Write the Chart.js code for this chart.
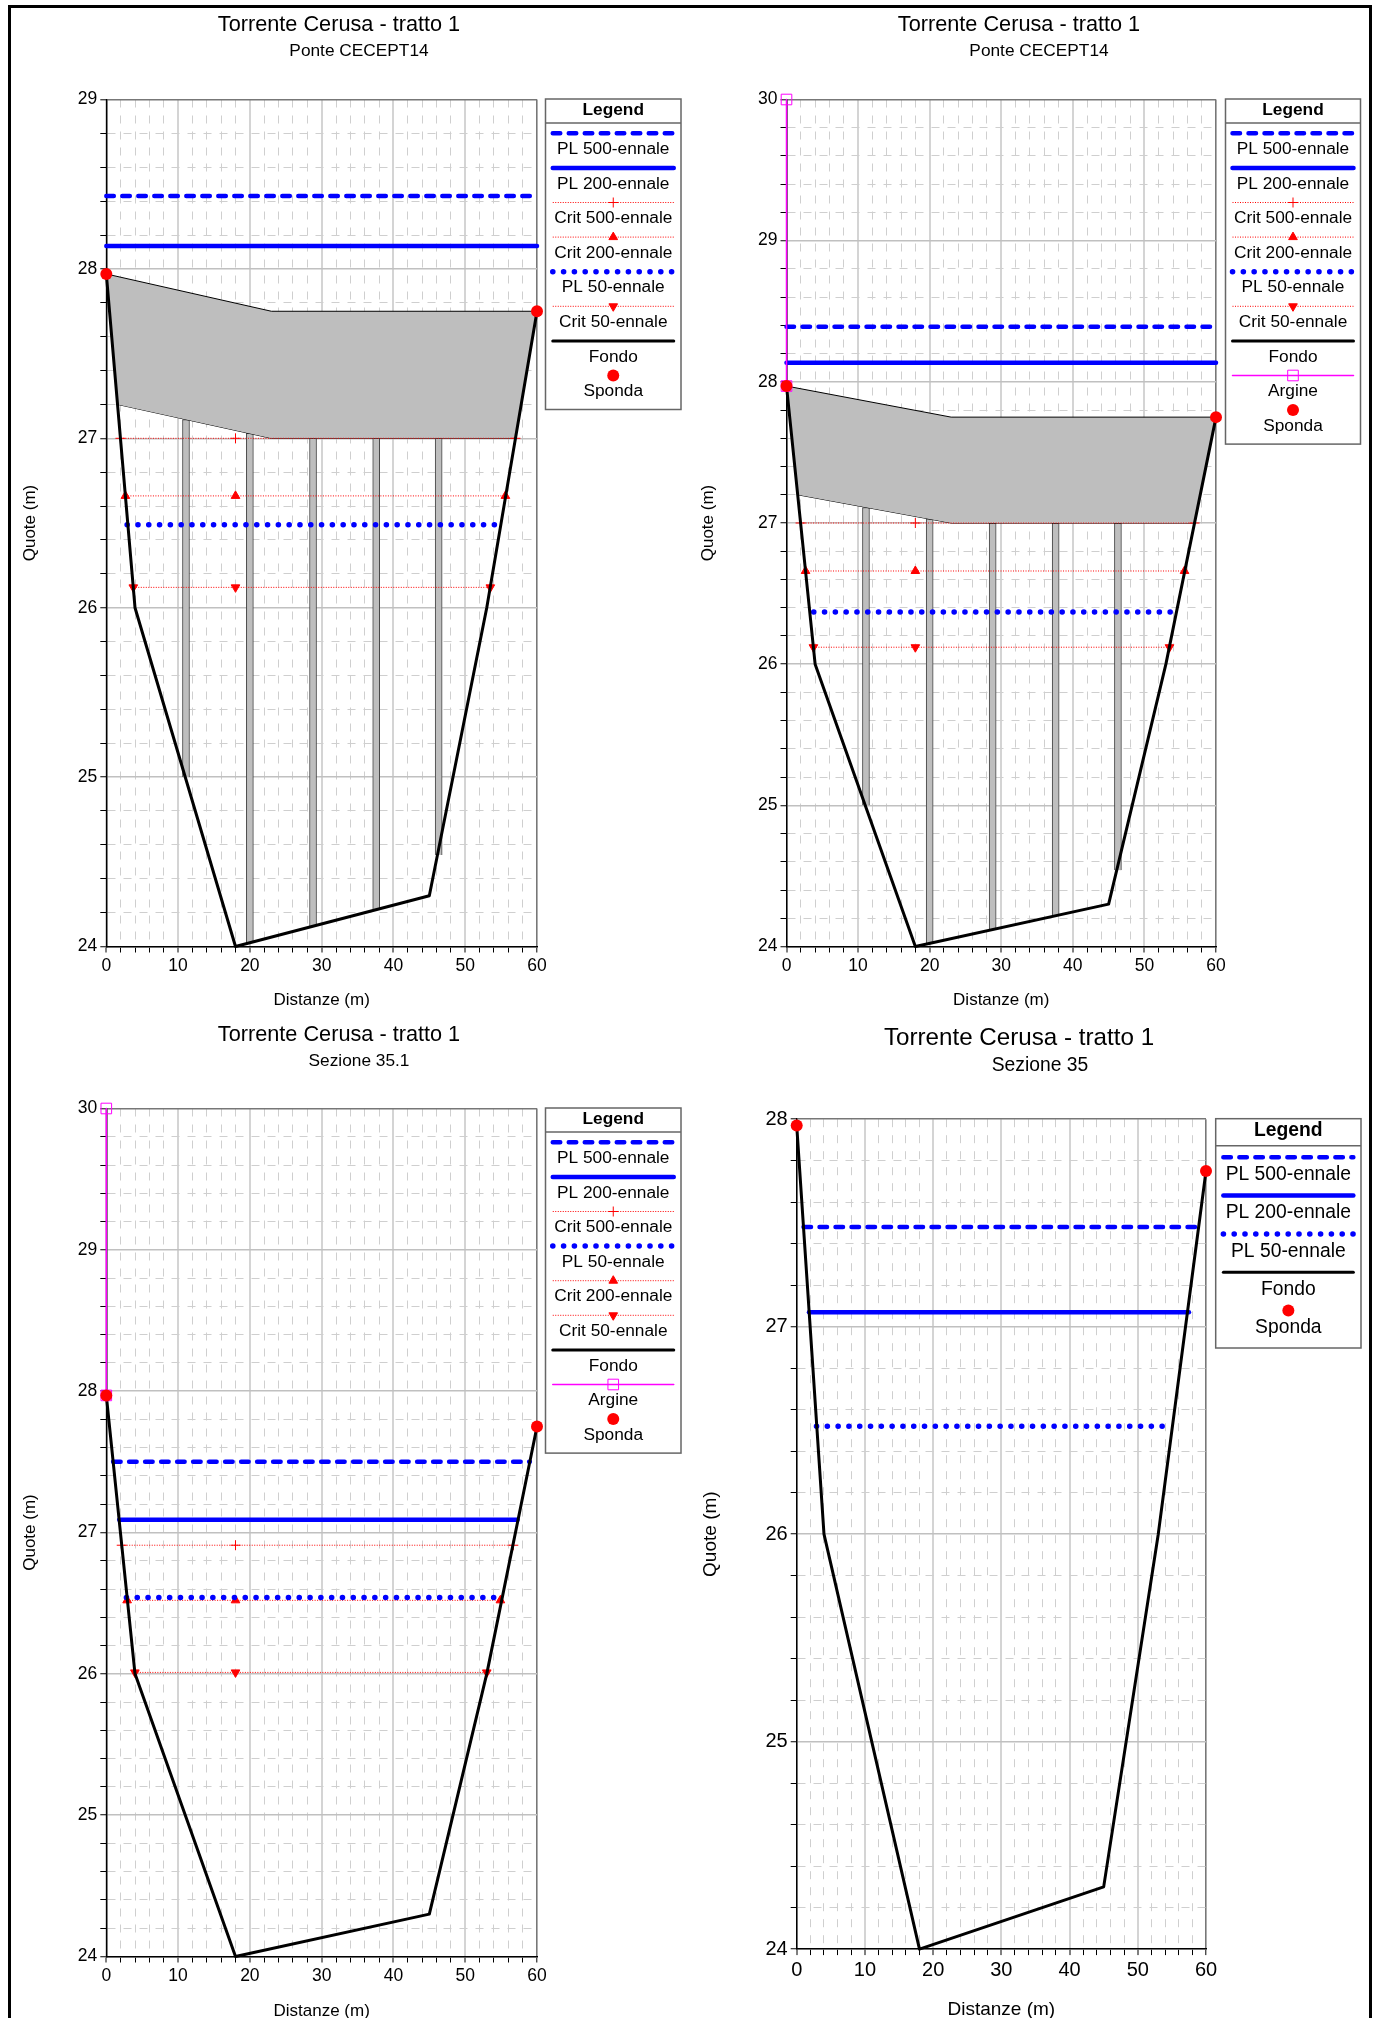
<!DOCTYPE html>
<html>
<head>
<meta charset="utf-8">
<title>Torrente Cerusa - tratto 1</title>
<style>
html, body { margin: 0; padding: 0; background: #fff; overflow: hidden; height: 2018px; }
#frame { position: absolute; left: 8px; top: 5px; width: 1358px; height: 2100px; border: 3px solid #000; }
canvas { position: absolute; }
</style>
<script src="https://cdn.jsdelivr.net/npm/chart.js@4/dist/chart.umd.js"></script>
</head>
<body>
<div id="frame"></div>
<canvas id="c1"></canvas>
<canvas id="c2"></canvas>
<canvas id="c3"></canvas>
<canvas id="c4"></canvas>
<script>
// riverbed and banks, shared by all the sections
const fondoX = [0, 4, 18, 45, 53, 60];
const fondoY = [27.97, 26, 24, 24.3, 26, 27.75];
const spondaX = [0, 60];
const spondaY = [27.97, 27.75];
const argineX = [0, 0];
const argineY = [27.97, 30];

// bridge deck and piers (first two panels)
const deckTopX = [0, 23, 60];
const deckTopY = [27.97, 27.75, 27.75];
const deckLowX = [0, 1.56, 23, 57, 60];
const deckLowY = [27.97, 27.2, 27, 27, 27.75];
const pierX = [11.1, 20, 28.8, 37.6, 46.3];
const pierBase = [25, 24.02, 24.12, 24.22, 24.54];
const pierTop = [27.11, 27.03, 27, 27, 27];

// levels: [quota, x start, x end], crit levels also have a marker at x = 18
const p1Pl500 = [28.43, 0, 59.3];
const p1Pl200 = [28.135, 0, 60];
const p1Crit500 = [27, 1.97, 57];
const p1Crit200 = [26.66, 2.66, 55.6];
const p1Pl50 = [26.49, 2.9, 54.8];
const p1Crit50 = [26.12, 3.76, 53.5];

const p2Pl500 = [28.39, 0, 59.4];
const p2Pl200 = [28.135, 0, 60];
const p2Crit500 = [27, 1.97, 57];
const p2Crit200 = [26.66, 2.66, 55.6];
const p2Pl50 = [26.37, 3.8, 53.9];
const p2Crit50 = [26.12, 3.76, 53.5];

const p3Pl500 = [27.5, 0.95, 59];
const p3Pl200 = [27.09, 1.8, 57.3];
const p3Crit500 = [26.91, 2.15, 56.7];
const p3Pl50 = [26.54, 2.8, 55.2];
const p3Crit200 = [26.52, 2.9, 54.9];
const p3Crit50 = [26.01, 3.98, 53];

const p4Pl500 = [27.48, 1, 59];
const p4Pl200 = [27.07, 1.8, 57.5];
const p4Pl50 = [26.52, 2.9, 54.4];

const legendP1 = ['PL 500-ennale', 'PL 200-ennale', 'Crit 500-ennale', 'Crit 200-ennale', 'PL 50-ennale', 'Crit 50-ennale', 'Fondo', 'Sponda'];
const legendP2 = ['PL 500-ennale', 'PL 200-ennale', 'Crit 500-ennale', 'Crit 200-ennale', 'PL 50-ennale', 'Crit 50-ennale', 'Fondo', 'Argine', 'Sponda'];
const legendP3 = ['PL 500-ennale', 'PL 200-ennale', 'Crit 500-ennale', 'PL 50-ennale', 'Crit 200-ennale', 'Crit 50-ennale', 'Fondo', 'Argine', 'Sponda'];
const legendP4 = ['PL 500-ennale', 'PL 200-ennale', 'PL 50-ennale', 'Fondo', 'Sponda'];

const FONT = '"Liberation Sans", Arial, sans-serif';

function zip(xs, ys) {
    return xs.map((x, i) => ({ x: x, y: ys[i] }));
}
function flat(level) {
    return [{ x: level[1], y: level[0] }, { x: level[2], y: level[0] }];
}
function crit(level) {
    return [{ x: level[1], y: level[0] }, { x: 18, y: level[0] }, { x: level[2], y: level[0] }];
}

function lineSet(label, data, extra) {
    return Object.assign({
        type: 'line', label: label, data: data, clip: false, fill: false, tension: 0,
        pointRadius: 0, pointHoverRadius: 0, borderCapStyle: 'round', borderJoinStyle: 'round'
    }, extra);
}
function pl500(level) { return lineSet('PL 500-ennale', flat(level), { borderColor: '#0000ff', borderWidth: 4.5, borderDash: [7.5, 8.5] }); }
function pl200(level) { return lineSet('PL 200-ennale', flat(level), { borderColor: '#0000ff', borderWidth: 4.5 }); }
function pl50(level) { return lineSet('PL 50-ennale', flat(level), { borderColor: '#0000ff', borderWidth: 5.5, borderDash: [0.1, 10.7] }); }
function critSet(label, level, style, rotation, radius) {
    return lineSet(label, crit(level), {
        borderColor: '#ff0000', borderWidth: 1, borderDash: [1, 1.5], borderCapStyle: 'butt',
        pointStyle: style, pointRotation: rotation, pointRadius: radius,
        pointBackgroundColor: '#ff0000', pointBorderColor: '#ff0000', pointBorderWidth: 1
    });
}
function crit500(level) { return critSet('Crit 500-ennale', level, 'cross', 0, 5); }
function crit200(level) { return critSet('Crit 200-ennale', level, 'triangle', 0, 5); }
function crit50(level) { return critSet('Crit 50-ennale', level, 'triangle', 180, 5); }
function fondo() { return lineSet('Fondo', zip(fondoX, fondoY), { borderColor: '#000', borderWidth: 3 }); }
function sponda() {
    return lineSet('Sponda', zip(spondaX, spondaY), {
        showLine: false, borderColor: '#ff0000', pointStyle: 'circle', pointRadius: 6,
        pointBackgroundColor: '#ff0000', pointBorderColor: '#ff0000', pointBorderWidth: 0
    });
}
function argine() {
    return lineSet('Argine', zip(argineX, argineY), {
        borderColor: '#ff00ff', borderWidth: 1.5, pointStyle: 'rect', pointRadius: 7.5,
        pointBackgroundColor: 'rgba(0,0,0,0)', pointBorderColor: '#ff00ff', pointBorderWidth: 1
    });
}
// deck = top edge filled down to the low edge, piers are floating bars behind it
function bridge() {
    return [
        lineSet('Impalcato', zip(deckTopX, deckTopY), {
            borderColor: '#000', borderWidth: 1, backgroundColor: '#bebebe', fill: { target: '+1' }
        }),
        lineSet('Impalcato basso', zip(deckLowX, deckLowY), { borderColor: '#000', borderWidth: 1 }),
        {
            type: 'bar', label: 'Pile', clip: false, barThickness: 7, grouped: false,
            data: pierX.map((x, i) => ({ x: x, y: [pierBase[i], pierTop[i]] })),
            backgroundColor: '#bebebe', borderColor: '#444', borderWidth: 1
        }
    ];
}

// titles and the boxed legend, all laid out in page pixels of the panel
const panelText = {
    id: 'panelText',
    afterDraw(chart, args, o) {
        const ctx = chart.ctx;
        ctx.save();
        ctx.translate(-o.canvasX, -o.canvasY);
        ctx.fillStyle = '#000';
        ctx.textAlign = 'center';
        ctx.textBaseline = 'middle';
        ctx.font = o.titleSize + 'px ' + FONT;
        ctx.fillText(o.title, o.titleX, o.titleY);
        ctx.font = o.subSize + 'px ' + FONT;
        ctx.fillText(o.subtitle, o.subX, o.subY);

        const b = o.box;
        const rows = o.entries.length;
        const bottom = b.top + b.first + (rows - 1) * b.step + b.offset + b.tail;
        const cx = (b.left + b.right) / 2;
        ctx.strokeStyle = '#666';
        ctx.lineWidth = 1.5;
        ctx.setLineDash([]);
        ctx.strokeRect(b.left, b.top, b.right - b.left, bottom - b.top);
        ctx.beginPath();
        ctx.moveTo(b.left, b.top + b.head);
        ctx.lineTo(b.right, b.top + b.head);
        ctx.stroke();
        ctx.font = 'bold ' + o.legendSize + 'px ' + FONT;
        ctx.fillText('Legend', cx, b.top + b.head * 0.46);

        o.entries.forEach((label, i) => {
            const ds = chart.data.datasets.find(d => d.label === label);
            const y = b.top + b.first + i * b.step;
            if (ds.showLine !== false) {
                ctx.save();
                ctx.strokeStyle = ds.borderColor;
                ctx.lineWidth = ds.borderWidth;
                ctx.lineCap = ds.borderCapStyle;
                ctx.setLineDash(ds.borderDash || []);
                ctx.beginPath();
                ctx.moveTo(cx - b.swatch / 2, y);
                ctx.lineTo(cx + b.swatch / 2, y);
                ctx.stroke();
                ctx.restore();
            }
            if (ds.pointRadius > 0) {
                ctx.save();
                ctx.setLineDash([]);
                ctx.fillStyle = ds.pointBackgroundColor;
                ctx.strokeStyle = ds.pointBorderColor;
                ctx.lineWidth = ds.pointBorderWidth;
                Chart.helpers.drawPoint(ctx, {
                    pointStyle: ds.pointStyle, rotation: ds.pointRotation || 0,
                    radius: ds.pointRadius, borderWidth: ds.pointBorderWidth
                }, cx, y);
                ctx.restore();
            }
            ctx.font = o.legendSize + 'px ' + FONT;
            ctx.fillStyle = '#000';
            ctx.fillText(label, cx, y + b.offset + 1);
        });
        ctx.restore();
    }
};

function isWhole(v, unit) {
    const q = v / unit;
    return Math.abs(q - Math.round(q)) < 1e-6;
}

function makePanel(id, c, plot, yMax, datasets, text) {
    const canvas = document.getElementById(id);
    canvas.width = c.w;
    canvas.height = c.h;
    canvas.style.left = c.x + 'px';
    canvas.style.top = c.y + 'px';
    canvas.style.width = c.w + 'px';
    canvas.style.height = c.h + 'px';

    const axisLine = (unit, end, majorColor, majorWidth) => ({
        offset: false,
        color: ctx => {
            if (ctx.tick && Math.abs(ctx.tick.value - end) < 1e-6) return '#777';
            return isWhole(ctx.tick ? ctx.tick.value : 0, unit) ? majorColor : '#cfcfcf';
        },
        lineWidth: ctx => {
            if (ctx.tick && Math.abs(ctx.tick.value - end) < 1e-6) return 1.6;
            return (ctx.tick && isWhole(ctx.tick.value, unit)) ? majorWidth : 1;
        },
        tickColor: '#000',
        tickLength: 6,
        tickWidth: 1
    });
    const dash = unit => ({
        display: true, color: '#000', width: 1.5,
        dash: ctx => (ctx.tick && isWhole(ctx.tick.value, unit)) ? [] : [8, 8]
    });
    const tickFont = { family: FONT, size: text.tickSize };
    const axisFont = { family: FONT, size: text.axisSize };

    return new Chart(canvas, {
        type: 'line',
        data: { datasets: datasets },
        options: {
            responsive: false,
            animation: false,
            devicePixelRatio: 1,
            events: [],
            layout: { padding: { top: plot.top - c.y, right: c.x + c.w - plot.right, left: 0, bottom: 0 } },
            plugins: {
                legend: { display: false },
                title: { display: false },
                tooltip: { enabled: false },
                panelText: Object.assign({ canvasX: c.x, canvasY: c.y }, text)
            },
            scales: {
                x: {
                    type: 'linear', min: 0, max: 60, offset: false,
                    afterFit: s => { s.height = c.y + c.h - plot.bottom; },
                    grid: axisLine(10, 60, '#d4d4d4', 2),
                    border: dash(10),
                    ticks: {
                        stepSize: 2, autoSkip: false, maxRotation: 0, color: '#000', font: tickFont, padding: 3,
                        callback: v => isWhole(v, 10) ? String(v) : ''
                    },
                    title: { display: true, text: 'Distanze (m)', color: '#000', font: axisFont, padding: { top: 0, bottom: text.xTitlePad } }
                },
                y: {
                    type: 'linear', min: 24, max: yMax,
                    afterFit: s => { s.width = plot.left - c.x; },
                    grid: axisLine(1, yMax, '#c0c0c0', 1.5),
                    border: dash(1),
                    ticks: {
                        stepSize: 0.2, autoSkip: false, color: '#000', font: tickFont, padding: 3,
                        callback: v => isWhole(v, 1) ? String(Math.round(v)) : ''
                    },
                    title: { display: true, text: 'Quote (m)', color: '#000', font: axisFont, padding: { top: text.yTitlePad, bottom: 0 } }
                }
            }
        },
        plugins: [panelText]
    });
}

const smallBox = { first: 34.3, step: 34.6, offset: 15, tail: 19, head: 24, swatch: 121 };
const smallText = { titleSize: 21.7, subSize: 17.3, legendSize: 17.3, tickSize: 17.5, axisSize: 17, yTitlePad: 8 };

// first dataset is drawn on top
makePanel('c1', { x: 12, y: 8, w: 678, h: 1004 }, { left: 106.3, right: 537, top: 99.5, bottom: 946.5 }, 29, [
    sponda(), fondo(),
    pl500(p1Pl500), pl200(p1Pl200), pl50(p1Pl50),
    crit500(p1Crit500), crit200(p1Crit200), crit50(p1Crit50)
].concat(bridge()), Object.assign({
    title: 'Torrente Cerusa - tratto 1', subtitle: 'Ponte CECEPT14',
    titleX: 339, titleY: 25, subX: 359, subY: 51, xTitlePad: 1, entries: legendP1,
    box: Object.assign({ left: 545.5, right: 681, top: 99 }, smallBox)
}, smallText));

makePanel('c2', { x: 690, y: 8, w: 678, h: 1004 }, { left: 786.5, right: 1216, top: 99.5, bottom: 946.5 }, 30, [
    sponda(), argine(), fondo(),
    pl500(p2Pl500), pl200(p2Pl200), pl50(p2Pl50),
    crit500(p2Crit500), crit200(p2Crit200), crit50(p2Crit50)
].concat(bridge()), Object.assign({
    title: 'Torrente Cerusa - tratto 1', subtitle: 'Ponte CECEPT14',
    titleX: 1019, titleY: 25, subX: 1039, subY: 51, xTitlePad: 1, entries: legendP2,
    box: Object.assign({ left: 1225.5, right: 1360.5, top: 99 }, smallBox)
}, smallText));

makePanel('c3', { x: 12, y: 1015, w: 678, h: 1010 }, { left: 106.3, right: 537, top: 1108.5, bottom: 1956.5 }, 30, [
    sponda(), argine(), fondo(),
    pl500(p3Pl500), pl200(p3Pl200), pl50(p3Pl50),
    crit500(p3Crit500), crit200(p3Crit200), crit50(p3Crit50)
], Object.assign({
    title: 'Torrente Cerusa - tratto 1', subtitle: 'Sezione 35.1',
    titleX: 339, titleY: 1035, subX: 359, subY: 1061, xTitlePad: 3, entries: legendP3,
    box: Object.assign({ left: 545.5, right: 681, top: 1108 }, smallBox)
}, smallText));

makePanel('c4', { x: 690, y: 1015, w: 678, h: 1010 }, { left: 796.7, right: 1206, top: 1119.2, bottom: 1949.1 }, 28, [
    sponda(), fondo(),
    pl500(p4Pl500), pl200(p4Pl200), pl50(p4Pl50)
], {
    title: 'Torrente Cerusa - tratto 1', subtitle: 'Sezione 35',
    titleX: 1019, titleY: 1038, subX: 1040, subY: 1066, xTitlePad: 4, yTitlePad: 9, entries: legendP4,
    titleSize: 24.2, subSize: 19.3, legendSize: 19.3, tickSize: 20, axisSize: 19,
    box: { left: 1215.7, right: 1361, top: 1118.7, first: 38.6, step: 38.3, offset: 16.5, tail: 21, head: 27, swatch: 130 }
});
</script>
</body>
</html>
